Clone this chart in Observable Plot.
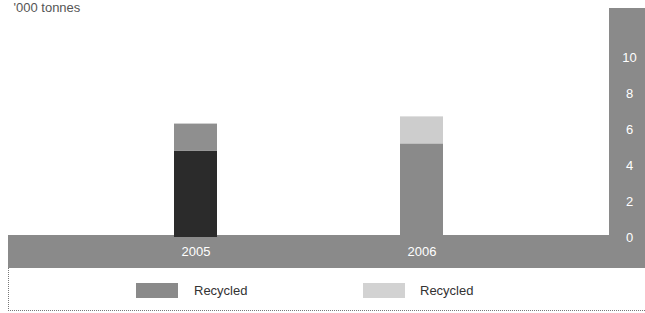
<!DOCTYPE html>
<html>
<head>
<meta charset="utf-8">
<script src="https://cdn.jsdelivr.net/npm/d3@7"></script>
<script src="https://cdn.jsdelivr.net/npm/@observablehq/plot@0.6"></script>
<style>
  html, body { margin: 0; padding: 0; background: #fff; }
  body { width: 645px; height: 313px; overflow: hidden; font-family: "Liberation Sans", "DejaVu Sans", sans-serif; }
  #chart svg { display: block; }
  #legend {
    position: relative; width: 637px; height: 43px; margin-left: 8px;
    border-left: 1px dotted #777; border-bottom: 1px dotted #777; box-sizing: border-box;
  }
  .sw { position: absolute; top: 15px; width: 42px; height: 15px; }
  .lab { position: absolute; top: 14px; font-size: 13px; color: #333; line-height: 17px; }
</style>
</head>
<body>
<div id="chart"></div>
<div id="legend"></div>
<script>
const unitLabel = "'000 tonnes";
const years = ["2005", "2006"];
const lowerValues = [4.8, 5.2];
const upperValues = [1.5, 1.5];
const seriesNames = ["Recycled", "Recycled"];
const yTicks = [0, 2, 4, 6, 8, 10];

const bandGray = "#8a8a8a";
const colors = {
  "2005": ["#2b2b2b", "#8f8f8f"],
  "2006": ["#8a8a8a", "#cdcdcd"]
};
const legendColors = ["#8a8a8a", "#d2d2d2"];

const rows = [];
years.forEach((y, i) => {
  rows.push({year: y, part: 0, value: lowerValues[i]});
  rows.push({year: y, part: 1, value: upperValues[i]});
});

const bands = (index, scales, values, dim) => {
  const g = d3.create("svg:g");
  const W = dim.width, H = dim.height;
  const y0 = H - dim.marginBottom - 2;
  g.append("rect").attr("x", dim.marginLeft).attr("y", y0)
    .attr("width", W - dim.marginLeft).attr("height", H - y0).attr("fill", bandGray);
  g.append("rect").attr("x", W - dim.marginRight).attr("y", dim.marginTop)
    .attr("width", dim.marginRight).attr("height", H - dim.marginTop).attr("fill", bandGray);
  return g.node();
};

const chart = Plot.plot({
  width: 645,
  height: 268,
  marginLeft: 8,
  marginRight: 36,
  marginTop: 8,
  marginBottom: 31,
  style: {fontFamily: "'Liberation Sans', 'DejaVu Sans', sans-serif", fontSize: "13px", background: "#fff"},
  x: {domain: years, paddingInner: 0.81, paddingOuter: 0.732, axis: null},
  y: {domain: [0, 12.72], axis: null},
  marks: [
    bands,
    Plot.barY(rows, Plot.stackY({
      x: "year", y: "value", z: "part", order: "part",
      fill: d => colors[d.year][d.part]
    })),
    Plot.axisX({anchor: "bottom", label: null, tickSize: 0, tickPadding: 9, fill: "#fff", fontSize: 13}),
    Plot.axisY({anchor: "right", label: null, ticks: yTicks, tickSize: 0, tickPadding: 3, textAnchor: "middle", dx: 17, fill: "#fff", fontSize: 13}),
    Plot.text([unitLabel], {frameAnchor: "top-left", lineAnchor: "top", dx: 5, dy: -6, fill: "#555", fontSize: 13})
  ]
});
document.getElementById("chart").appendChild(chart);

const legend = document.getElementById("legend");
const swX = [127, 354];
const labX = [185, 411];
seriesNames.forEach((name, i) => {
  const sw = document.createElement("div");
  sw.className = "sw"; sw.style.left = swX[i] + "px"; sw.style.background = legendColors[i];
  legend.appendChild(sw);
  const lb = document.createElement("div");
  lb.className = "lab"; lb.style.left = labX[i] + "px"; lb.textContent = name;
  legend.appendChild(lb);
});
</script>
</body>
</html>
